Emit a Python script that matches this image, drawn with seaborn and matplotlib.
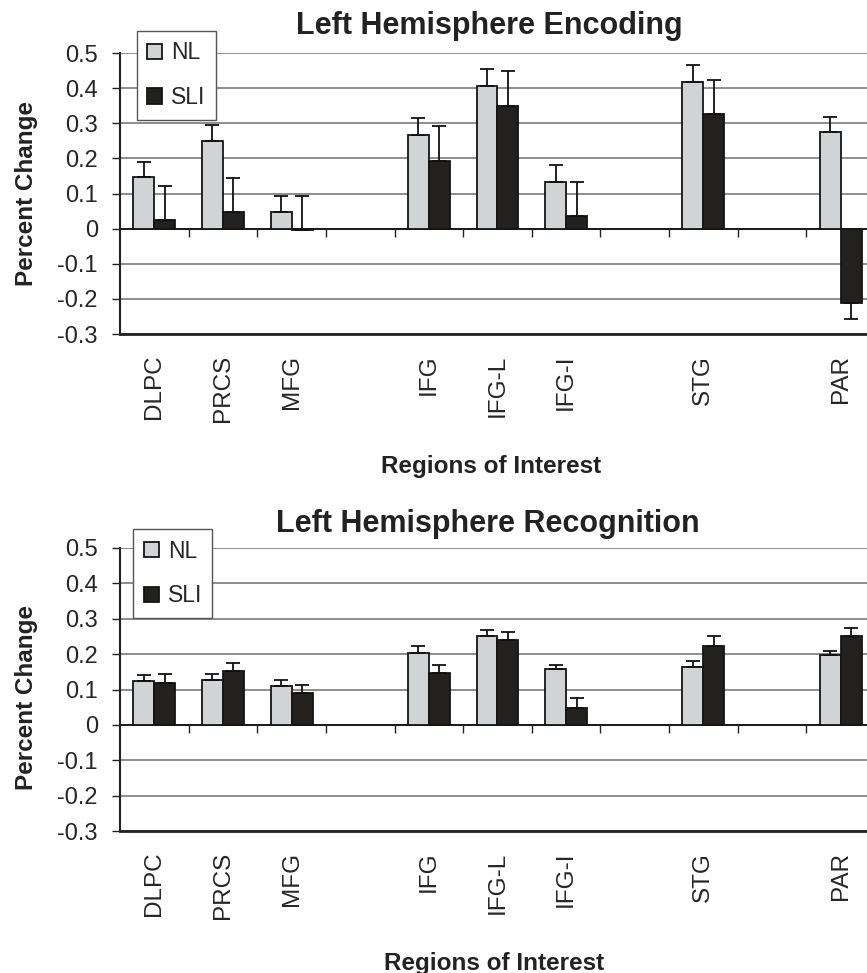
import numpy as np
import pandas as pd
import matplotlib
matplotlib.use("Agg")
import matplotlib.pyplot as plt
from matplotlib.container import BarContainer
import seaborn as sns

regions = ["DLPC", "PRCS", "MFG", "IFG", "IFG-L", "IFG-I", "STG", "PAR"]
# empty category slots keep the gaps between region groups
slots = ["DLPC", "PRCS", "MFG", "", "IFG", "IFG-L", "IFG-I", " ", "STG", "  ", "PAR"]
groups = ["NL", "SLI"]
yticks = [-0.3, -0.2, -0.1, 0, 0.1, 0.2, 0.3, 0.4, 0.5]

# bar heights and the value where each error bar ends
enc_nl = [0.146, 0.250, 0.047, 0.267, 0.406, 0.134, 0.418, 0.274]
enc_nl_cap = [0.191, 0.295, 0.092, 0.314, 0.454, 0.180, 0.465, 0.319]
enc_sli = [0.025, 0.048, -0.004, 0.194, 0.349, 0.035, 0.327, -0.211]
enc_sli_cap = [0.122, 0.144, 0.092, 0.291, 0.448, 0.133, 0.423, -0.256]

rec_nl = [0.123, 0.128, 0.111, 0.204, 0.250, 0.157, 0.163, 0.198]
rec_nl_cap = [0.141, 0.145, 0.128, 0.222, 0.267, 0.168, 0.180, 0.209]
rec_sli = [0.118, 0.153, 0.090, 0.146, 0.239, 0.047, 0.222, 0.250]
rec_sli_cap = [0.145, 0.174, 0.112, 0.169, 0.262, 0.075, 0.250, 0.274]

colors = {"NL": "#d1d3d4", "SLI": "#231f20"}

sns.set_style("white")
plt.rcParams["font.family"] = ["Liberation Sans", "DejaVu Sans"]
plt.rcParams["axes.unicode_minus"] = False


def long_table(nl, nl_cap, sli, sli_cap):
    rows = []
    for g, vals, caps in (("NL", nl, nl_cap), ("SLI", sli, sli_cap)):
        for r, v, c in zip(regions, vals, caps):
            rows.append({"region": r, "group": g, "value": v, "cap": c})
    return pd.DataFrame(rows)


def panel(ax, df, title, title_x, title_pad, leg_anchor, ylab_y, xlab_xy):
    sns.barplot(data=df, x="region", y="value", hue="group", order=slots,
                hue_order=groups, palette=colors, width=0.61, gap=0,
                edgecolor="#151515", linewidth=1.3, errorbar=None,
                legend=False, ax=ax, zorder=3)
    bars = [c for c in ax.containers if isinstance(c, BarContainer)]
    for cont, g in zip(bars, groups):
        sub = df[df["group"] == g]
        xs = [p.get_x() + p.get_width() / 2 for p in cont.patches]
        v = sub["value"].to_numpy()
        c = sub["cap"].to_numpy()
        lo = np.clip(v - c, 0, None)
        hi = np.clip(c - v, 0, None)
        ax.errorbar(xs, v, yerr=[lo, hi], fmt="none", ecolor="#111111",
                    elinewidth=1.3, capsize=4.8, capthick=1.3, zorder=4)

    ax.set_ylim(-0.3, 0.5)
    ax.set_xlim(-0.5, len(slots) - 0.5)
    ax.set_yticks(yticks)
    ax.set_yticklabels([f"{t:g}" for t in yticks], fontsize=17)
    ax.set_xticks(range(len(slots)))
    ax.set_xticklabels(slots, rotation=90, fontsize=17.5)
    ax.tick_params(axis="x", length=0, pad=15)
    ax.tick_params(axis="y", length=6, width=1, direction="out",
                   color="#222222", pad=10, left=True)
    ax.yaxis.grid(True, color="#6f6f6f", linewidth=1.1)
    ax.xaxis.grid(False)
    ax.set_axisbelow(True)
    ax.axhline(0, color="#111111", linewidth=1.3, zorder=2)

    for s in ["top", "right"]:
        ax.spines[s].set_visible(False)
    ax.spines["left"].set_color("#222222")
    ax.spines["left"].set_linewidth(1.5)
    ax.spines["bottom"].set_color("#222222")
    ax.spines["bottom"].set_linewidth(2.0)

    # category separators hanging below the zero line
    y0, y1 = ax.get_ylim()
    sec = ax.secondary_xaxis((0 - y0) / (y1 - y0))
    sec.set_xticks(np.arange(len(slots) - 1) + 0.5)
    sec.set_xticklabels([])
    sec.tick_params(axis="x", length=6, width=1, direction="out", color="#222222")
    sec.spines["bottom"].set_visible(False)

    ax.set_title(title, fontsize=22, fontweight="bold", x=title_x,
                 pad=title_pad, color="#222222")
    ax.set_ylabel("Percent Change", fontsize=17.5, fontweight="bold", color="#222222")
    ax.yaxis.set_label_coords(-0.109, ylab_y)
    ax.set_xlabel("Regions of Interest", fontsize=17.5, fontweight="bold", color="#222222")
    ax.xaxis.set_label_coords(*xlab_xy)

    leg = ax.legend(bars, groups, loc="upper left", bbox_to_anchor=leg_anchor,
                    borderaxespad=0, fontsize=16.5, handlelength=0.65,
                    handleheight=0.65, handletextpad=0.4, labelspacing=0.95,
                    borderpad=0.45, fancybox=False, framealpha=1,
                    edgecolor="#555555")
    leg.get_frame().set_linewidth(1.0)
    leg.set_zorder(10)


fig = plt.figure(figsize=(8.67, 9.73), dpi=100)
ax1 = fig.add_axes([0.1384, 0.6567, 0.8708, 0.2888])
ax2 = fig.add_axes([0.1384, 0.1459, 0.8708, 0.2909])

panel(ax1, long_table(enc_nl, enc_nl_cap, enc_sli, enc_sli_cap),
      "Left Hemisphere Encoding", 0.489, 13.5, (0.0225, 1.078), 0.5, (0.491, -0.43))
panel(ax2, long_table(rec_nl, rec_nl_cap, rec_sli, rec_sli_cap),
      "Left Hemisphere Recognition", 0.487, 11.5, (0.0177, 1.066), 0.4735, (0.495, -0.426))

fig.savefig("out.png", dpi=100)
